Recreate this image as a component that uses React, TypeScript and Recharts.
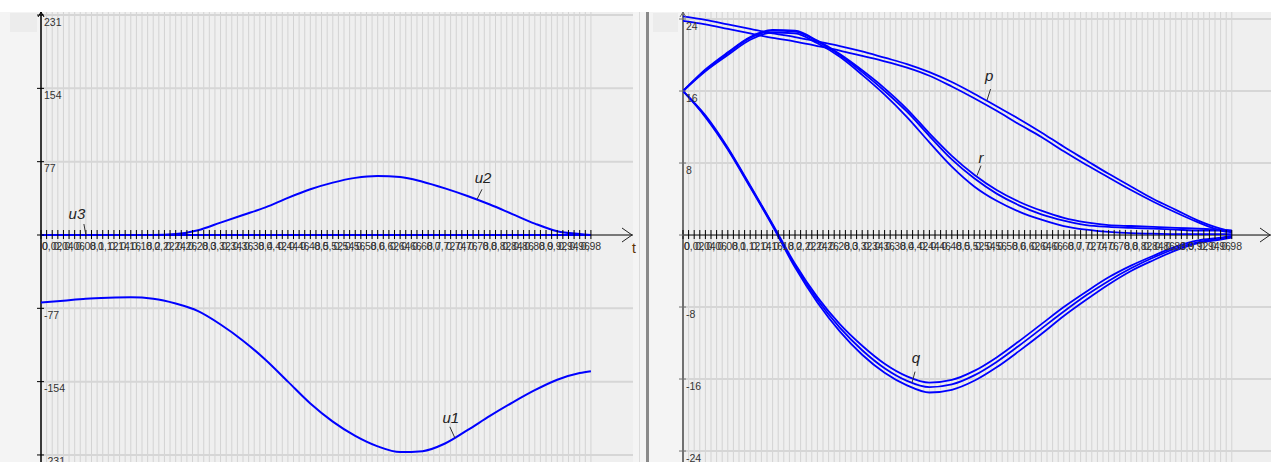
import React from 'react';
import { LineChart, Line, XAxis, YAxis, CartesianGrid, ReferenceLine, ReferenceDot } from 'recharts';

// ---- data ----
const T = [0, 0.04, 0.08, 0.12, 0.16, 0.2, 0.24, 0.28, 0.32, 0.36, 0.4, 0.44, 0.48, 0.52, 0.56, 0.6, 0.64, 0.68, 0.72, 0.76, 0.8, 0.84, 0.88, 0.92, 0.96, 0.98];

const U1 = [-71, -69, -67, -66, -65.5, -67, -72, -80, -94, -111, -131, -154, -177, -196, -211, -222, -228, -227, -219, -205, -190, -176, -163, -152, -145, -143];
const U2 = [0, 0, 0, 0, 0, 0, 1, 5, 13, 21, 29, 39, 48, 55, 60, 62, 61, 56, 49, 41, 32, 22, 12, 4, 1, 0];
const U3 = [0, 0, 0, 0, 0, 0, 0, 0, 0, 0, 0, 0, 0, 0, 0, 0, 0, 0, 0, 0, 0, 0, 0, 0, 0, 0];

const P1 = [24.3, 23.9, 23.4, 22.9, 22.4, 22.0, 21.5, 21.0, 20.4, 19.7, 19.0, 18.1, 17.0, 15.7, 14.3, 12.9, 11.4, 9.8, 8.3, 6.8, 5.4, 4.0, 2.8, 1.6, 0.7, 0.4];
const P2 = [23.8, 23.4, 22.9, 22.4, 21.9, 21.5, 21.0, 20.5, 19.9, 19.3, 18.6, 17.7, 16.5, 15.2, 13.8, 12.3, 10.9, 9.3, 7.8, 6.4, 5.0, 3.7, 2.5, 1.4, 0.5, 0.3];

const R1 = [16, 18.4, 20.3, 22.0, 22.8, 22.7, 21.6, 20.1, 18.3, 16.3, 14.0, 11.3, 8.8, 6.7, 5.0, 3.7, 2.7, 1.9, 1.4, 1.1, 1.0, 0.9, 0.8, 0.7, 0.6, 0.5];
const R2 = [16, 18.3, 20.2, 21.9, 22.7, 22.6, 21.5, 20.0, 18.1, 16.0, 13.7, 11.0, 8.4, 6.3, 4.6, 3.3, 2.3, 1.6, 1.1, 0.9, 0.8, 0.7, 0.6, 0.5, 0.5, 0.4];
const R3 = [16, 18.2, 20.0, 21.7, 22.5, 22.4, 21.3, 19.8, 17.8, 15.6, 13.1, 10.3, 7.6, 5.4, 3.8, 2.6, 1.7, 1.0, 0.6, 0.35, 0.2, 0.15, 0.1, 0.1, 0.1, 0.1];

const Q1 = [16, 13.3, 9.7, 5.5, 1.2, -3.2, -6.9, -9.9, -12.3, -14.3, -15.7, -16.4, -16.1, -15.1, -13.6, -11.8, -9.9, -8.0, -6.3, -4.7, -3.4, -2.3, -1.3, -0.6, -0.3, -0.1];
const Q2 = [16, 13.2, 9.6, 5.4, 1.1, -3.4, -7.2, -10.3, -12.8, -14.8, -16.2, -16.9, -16.6, -15.6, -14.1, -12.3, -10.4, -8.5, -6.7, -5.1, -3.7, -2.5, -1.5, -0.8, -0.4, -0.2];
const Q3 = [16, 13.1, 9.5, 5.3, 1.0, -3.6, -7.5, -10.7, -13.3, -15.3, -16.7, -17.5, -17.2, -16.2, -14.7, -12.9, -11.0, -9.0, -7.2, -5.5, -4.0, -2.8, -1.7, -0.9, -0.5, -0.3];

// ---- ticks ----
const X_TICKS = Array.from({ length: 99 }, (_, i) => Number((i / 100).toFixed(2)));
const X_LABELS = X_TICKS.map((v, i) => (i % 2 === 0 ? String(v).replace('.', ',') : ''));
const LEFT_Y_TICKS = [-231, -154, -77, 0, 77, 154, 231];
const RIGHT_Y_TICKS = [-24, -16, -8, 0, 8, 16, 24];

const LEFT_DOMAIN_Y: [number, number] = [-238.4, 234.2];
const RIGHT_DOMAIN_Y: [number, number] = [-25.22, 24.78];
const LEFT_X_MAX = 1.055;
const RIGHT_X_MAX = 1.05;

// curve labels: [name, t, value, dx, dy, lineDx, lineDy]
const LEFT_CURVE_LABELS: [string, number, number, number, number, number, number][] = [
  ['u1', 0.7375, -213, -4, -15, -5, -11],
  ['u2', 0.777, 37.5, 6, -16, 5, -10],
  ['u3', 0.08, 0, -9, -16, -2, -11],
];
const RIGHT_CURVE_LABELS: [string, number, number, number, number, number, number][] = [
  ['p', 0.543, 15.0, 2, -19, 3.5, -11],
  ['r', 0.525, 6.6, 4, -13, 4, -10],
  ['q', 0.409, -16.4, 4, -20, 3, -11],
];

const leftData = T.map((t, i) => ({ t, u1: U1[i], u2: U2[i], u3: U3[i] }));
const rightData = T.map((t, i) => ({
  t, p1: P1[i], p2: P2[i], r1: R1[i], r2: R2[i], r3: R3[i], q1: Q1[i], q2: Q2[i], q3: Q3[i],
}));

const FONT = '"Liberation Sans", Arial, sans-serif';
const BLUE = '#0000ff';

const xTickShape = (label: string) => (p: any) => (
  <g>
    <line x1={p.cx} x2={p.cx} y1={p.cy - 5} y2={p.cy + 4} stroke="#000" strokeWidth={1} />
    {label ? (
      <text x={p.cx + (label === '0' ? 4 : 0)} y={p.cy + 15} textAnchor="middle" fontSize={10.5} fontFamily={FONT} fill="#333">
        {label}
      </text>
    ) : null}
  </g>
);

const yTickShape = (v: number, color: string) => (p: any) => (
  <g>
    <line x1={p.cx - 4} x2={p.cx + 3} y1={p.cy} y2={p.cy} stroke={color} strokeWidth={1} />
    {v !== 0 ? (
      <text x={p.cx + 3} y={p.cy + 10.5} textAnchor="start" fontSize={10.5} fontFamily={FONT} fill="#333">
        {String(v)}
      </text>
    ) : null}
  </g>
);

const yArrowShape = (color: string) => (p: any) => (
  <polyline points={`${p.cx - 3},${p.cy + 5} ${p.cx},${p.cy} ${p.cx + 3},${p.cy + 5}`} fill="none" stroke={color} strokeWidth={1} />
);

const xArrowShape = (withT: boolean) => (p: any) => (
  <g>
    <polyline points={`${p.cx - 11},${p.cy - 7} ${p.cx - 1},${p.cy} ${p.cx - 11},${p.cy + 7}`} fill="none" stroke="#222" strokeWidth={1} />
    {withT ? (
      <text x={p.cx + 1} y={p.cy + 18} textAnchor="middle" fontSize={14} fontFamily={FONT} fill="#5c3000">
        t
      </text>
    ) : null}
  </g>
);

const curveLabelShape = (name: string, dx: number, dy: number, lx: number, ly: number) => (p: any) => (
  <g>
    <line x1={p.cx} y1={p.cy} x2={p.cx + lx} y2={p.cy + ly} stroke="#333" strokeWidth={1} />
    <text x={p.cx + dx} y={p.cy + dy} textAnchor="middle" fontSize={15} fontStyle="italic" fontFamily={FONT} fill="#222">
      {name}
    </text>
  </g>
);

const TickNone = () => <g />;

function Panel(props: {
  data: any[];
  keys: string[];
  yTicks: number[];
  yDomain: [number, number];
  xMax: number;
  width: number;
  marginLeft: number;
  marginRight: number;
  axisColor: string;
  axisWidth: number;
  labels: [string, number, number, number, number, number, number][];
  withT: boolean;
  strokeWidth: number;
}) {
  const { data, keys, yTicks, yDomain, xMax, width, marginLeft, marginRight, axisColor, axisWidth, labels, withT, strokeWidth } = props;
  const vGen = (args: any) => {
    const s = args?.xAxis?.scale;
    const off = args?.offset || {};
    return X_TICKS.map((v) => (typeof s === 'function' ? s(v) : off.left + (v / xMax) * off.width));
  };
  const hGen = (args: any) => {
    const s = args?.yAxis?.scale;
    const off = args?.offset || {};
    return yTicks
      .filter((v) => v !== 0)
      .map((v) => (typeof s === 'function' ? s(v) : off.top + ((yDomain[1] - v) / (yDomain[1] - yDomain[0])) * off.height));
  };
  return (
    <LineChart width={width} height={450} data={data} margin={{ top: 0, right: marginRight, bottom: 0, left: marginLeft }}>
      <XAxis dataKey="t" type="number" domain={[0, xMax]} ticks={X_TICKS} interval={0} height={0} tick={TickNone} tickLine={false} axisLine={false} allowDataOverflow />
      <YAxis type="number" domain={yDomain} ticks={yTicks} interval={0} width={0} tick={TickNone} tickLine={false} axisLine={false} allowDataOverflow />
      <CartesianGrid horizontal={false} vertical={true} stroke="#d3d3d3" strokeWidth={1} fill="#efefef" verticalCoordinatesGenerator={vGen} />
      <CartesianGrid horizontal={true} vertical={false} stroke="#d6d6d6" strokeWidth={2} horizontalCoordinatesGenerator={hGen} />
      <ReferenceLine x={0} stroke={axisColor} strokeWidth={axisWidth} />
      <ReferenceLine y={0} stroke="#000" strokeWidth={1} />
      {keys.map((k) => (
        <Line key={k} dataKey={k} type="monotone" stroke={BLUE} strokeWidth={strokeWidth} dot={false} activeDot={false} isAnimationActive={false} />
      ))}
      {X_TICKS.map((v, i) => (
        <ReferenceDot key={'xt' + i} x={v} y={0} r={0} shape={xTickShape(X_LABELS[i])} />
      ))}
      {yTicks.map((v) => (
        <ReferenceDot key={'yt' + v} x={0} y={v} r={0} shape={yTickShape(v, axisColor)} />
      ))}
      <ReferenceDot x={0} y={yDomain[1]} r={0} shape={yArrowShape(axisColor)} />
      <ReferenceDot x={xMax} y={0} r={0} shape={xArrowShape(withT)} />
      {labels.map((l) => (
        <ReferenceDot key={'lb' + l[0]} x={l[1]} y={l[2]} r={0} shape={curveLabelShape(l[0], l[3], l[4], l[5], l[6])} />
      ))}
    </LineChart>
  );
}

export default function App() {
  return (
    <div style={{ position: 'absolute', left: 0, top: 0, width: 1271, height: 462, background: '#ffffff', overflow: 'hidden' }}>
      {/* left panel */}
      <div style={{ position: 'absolute', left: 0, top: 12, width: 647, height: 450, background: '#f4f4f4' }}>
        <div style={{ position: 'absolute', left: 10, top: 1, width: 27, height: 19, background: '#ececec' }} />
        <div style={{ position: 'absolute', left: 0, top: 0 }}>
          <Panel
            data={leftData}
            keys={['u3', 'u2', 'u1']}
            yTicks={LEFT_Y_TICKS}
            yDomain={LEFT_DOMAIN_Y}
            xMax={LEFT_X_MAX}
            width={647}
            marginLeft={41}
            marginRight={14}
            axisColor="#000"
            axisWidth={1.5}
            labels={LEFT_CURVE_LABELS}
            withT={true}
            strokeWidth={2}
          />
        </div>
        <div style={{ position: 'absolute', left: 639, top: 0, width: 1, height: 450, background: '#dcdcdc' }} />
      </div>
      {/* separator */}
      <div style={{ position: 'absolute', left: 646, top: 12, width: 3, height: 450, background: '#8a8a8a' }} />
      {/* right panel */}
      <div style={{ position: 'absolute', left: 649, top: 12, width: 622, height: 450, background: '#f4f4f4' }}>
        <div style={{ position: 'absolute', left: 4, top: 1, width: 25, height: 19, background: '#ececec' }} />
        <div style={{ position: 'absolute', left: 0, top: 0 }}>
          <Panel
            data={rightData}
            keys={['p1', 'p2', 'r1', 'r2', 'r3', 'q1', 'q2', 'q3']}
            yTicks={RIGHT_Y_TICKS}
            yDomain={RIGHT_DOMAIN_Y}
            xMax={RIGHT_X_MAX}
            width={622}
            marginLeft={34}
            marginRight={0}
            axisColor="#707070"
            axisWidth={2}
            labels={RIGHT_CURVE_LABELS}
            withT={false}
            strokeWidth={1.8}
          />
        </div>
      </div>
    </div>
  );
}
